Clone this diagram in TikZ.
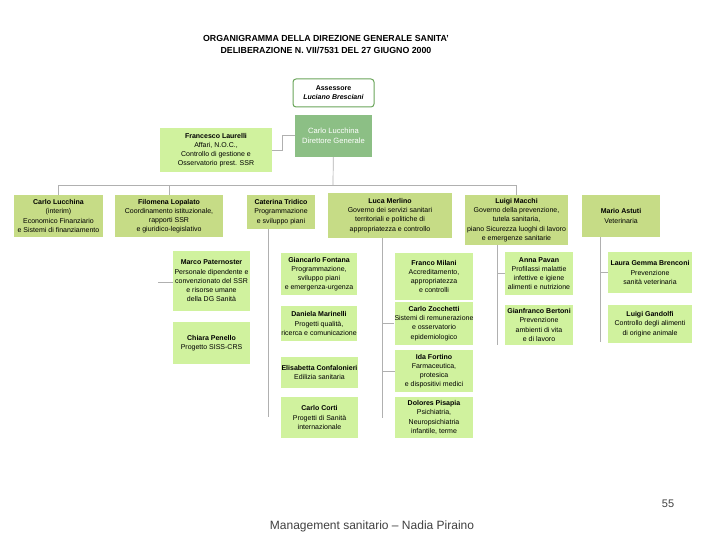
\documentclass[tikz,border=0pt]{standalone}
\usepackage{fontspec}
\setmainfont{Liberation Sans}
\usepackage{xcolor}
\usepackage{tikz}
\usetikzlibrary{positioning, calc}

\definecolor{headgreen}{HTML}{C6DC86}
\definecolor{subgreen}{HTML}{D0F29E}
\definecolor{dirgreen}{HTML}{8CBF85}
\definecolor{assgreen}{HTML}{6AA55A}
\definecolor{linegray}{HTML}{B0B0B0}

\begin{document}
\begin{tikzpicture}[
    x=1pt, y=-1pt,
    box/.style={rectangle, inner sep=0pt, align=center,
      font=\fontsize{7}{9.2}\selectfont},
    headbox/.style={box, fill=headgreen},
    subbox/.style={box, fill=subgreen},
    dirbox/.style={box, fill=dirgreen, text=white, font=\fontsize{7.6}{10}\selectfont},
    conn/.style={draw=linegray, line width=0.7pt}
]
\useasboundingbox (0,0) rectangle (720,540);

% titolo
\node[align=center, font=\fontsize{8.8}{12}\selectfont\bfseries] (title) at (326,45)
  {ORGANIGRAMMA DELLA DIREZIONE GENERALE SANITA'\\DELIBERAZIONE N. VII/7531 DEL 27 GIUGNO 2000};

% vertice
\node[box, draw=assgreen, line width=1pt, rounded corners=3pt, fill=white,
  minimum width=81pt, minimum height=28pt] (assessore) at (333.5,93)
  {\textbf{Assessore}\\\textbf{\itshape Luciano Bresciani}};
\node[dirbox, minimum width=77pt, minimum height=42pt] (dg) at (333.5,136)
  {Carlo Lucchina\\Direttore Generale};
\node[subbox, minimum width=112pt, minimum height=44pt] (laurelli) at (216,150)
  {\textbf{Francesco Laurelli}\\Affari, N.O.C.,\\Controllo di gestione e\\Osservatorio prest. SSR};

% unita' organizzative
\node[headbox, minimum width=89pt, minimum height=42pt] (lucchina) at (58.5,216)
  {\textbf{Carlo Lucchina}\\(interim)\\Economico Finanziario\\e Sistemi di finanziamento};
\node[headbox, minimum width=108pt, minimum height=42pt] (lopalato) at (169,216)
  {\textbf{Filomena Lopalato}\\Coordinamento istituzionale,\\rapporti SSR\\e giuridico-legislativo};
\node[headbox, minimum width=68pt, minimum height=34pt] (tridico) at (281,212)
  {\textbf{Caterina Tridico}\\Programmazione\\e sviluppo piani};
\node[headbox, minimum width=124pt, minimum height=45pt] (merlino) at (390,215.5)
  {\textbf{Luca Merlino}\\Governo dei servizi sanitari\\territoriali e politiche di\\appropriatezza e controllo};
\node[headbox, minimum width=103pt, minimum height=50pt] (macchi) at (516.5,220)
  {\textbf{Luigi Macchi}\\Governo della prevenzione,\\tutela sanitaria,\\piano Sicurezza luoghi di lavoro\\e emergenze sanitarie};
\node[headbox, minimum width=78pt, minimum height=42pt] (astuti) at (621,216)
  {\textbf{Mario Astuti}\\Veterinaria};

% strutture
\node[subbox, minimum width=77pt, minimum height=60pt] (paternoster) at (211.5,281)
  {\textbf{Marco Paternoster}\\Personale dipendente e\\convenzionato del SSR\\e risorse umane\\della DG Sanit\`a};
\node[subbox, minimum width=77pt, minimum height=42pt] (penello) at (211.5,343)
  {\textbf{Chiara Penello}\\Progetto SISS-CRS};
\node[subbox, minimum width=76pt, minimum height=42pt] (fontana) at (319,274)
  {\textbf{Giancarlo Fontana}\\Programmazione,\\sviluppo piani\\e emergenza-urgenza};
\node[subbox, minimum width=76pt, minimum height=35pt] (marinelli) at (319,323.5)
  {\textbf{Daniela Marinelli}\\Progetti qualit\`a,\\ricerca e comunicazione};
\node[subbox, minimum width=77pt, minimum height=31pt] (confalonieri) at (319.5,372.5)
  {\textbf{Elisabetta Confalonieri}\\Edilizia sanitaria};
\node[subbox, minimum width=77pt, minimum height=41pt] (corti) at (319.5,417.5)
  {\textbf{Carlo Corti}\\Progetti di Sanit\`a\\internazionale};
\node[subbox, minimum width=78pt, minimum height=47pt] (milani) at (434,276.5)
  {\textbf{Franco Milani}\\Accreditamento,\\appropriatezza\\e controlli};
\node[subbox, minimum width=78pt, minimum height=43pt] (zocchetti) at (434,323.5)
  {\textbf{Carlo Zocchetti}\\Sistemi di remunerazione\\e osservatorio\\epidemiologico};
\node[subbox, minimum width=78pt, minimum height=42pt] (fortino) at (434,371)
  {\textbf{Ida Fortino}\\Farmaceutica,\\protesica\\e dispositivi medici};
\node[subbox, minimum width=78pt, minimum height=41pt] (pisapia) at (434,417.5)
  {\textbf{Dolores Pisapia}\\Psichiatria,\\Neuropsichiatria\\infantile, terme};
\node[subbox, minimum width=68pt, minimum height=43pt] (pavan) at (539,273.5)
  {\textbf{Anna Pavan}\\Profilassi malattie\\infettive e igiene\\alimenti e nutrizione};
\node[subbox, minimum width=68pt, minimum height=40pt] (bertoni) at (539,325)
  {\textbf{Gianfranco Bertoni}\\Prevenzione\\ambienti di vita\\e di lavoro};
\node[subbox, minimum width=84pt, minimum height=41pt] (brenconi) at (650,272.5)
  {\textbf{Laura Gemma Brenconi}\\Prevenzione\\sanit\`a veterinaria};
\node[subbox, minimum width=84pt, minimum height=38pt] (gandolfi) at (650,324)
  {\textbf{Luigi Gandolfi}\\Controllo degli alimenti\\di origine animale};

% collegamenti
\coordinate (bus) at (333,185);
\coordinate (stub) at (158,282);
\coordinate (colT) at (268,417);
\coordinate (colM) at (382,418);
\coordinate (colV) at (497,345);
\coordinate (colA) at (600,342);
\draw[conn] (dg) -- (bus);
\draw[conn] (lucchina.north) -- (lucchina.north |- bus) -- (macchi.north |- bus) -- (macchi.north);
\draw[conn] (lopalato.north) -- (lopalato.north |- bus);
\draw[conn] (dg.west |- 0,135) -- (282,135) -- (282,150) -- (laurelli.east);
\draw[conn] (stub) -- (stub -| paternoster.west);
\draw[conn] (colT |- tridico.south) -- (colT);
\draw[conn] (colM |- merlino.south) -- (colM);
\draw[conn] (colM |- zocchetti.west) -- (zocchetti.west);
\draw[conn] (colM |- fortino.west) -- (fortino.west);
\draw[conn] (colV |- macchi.south) -- (colV);
\draw[conn] (colV |- pavan.west) -- (pavan.west);
\draw[conn] (colA |- astuti.south) -- (colA);
\draw[conn] (colA |- brenconi.west) -- (brenconi.west);

% pie' di pagina
\node[font=\fontsize{11}{13}\selectfont, text=black!75] (pagenum) at (668,504) {55};
\node[font=\fontsize{12}{14}\selectfont, text=black!75] (footer) at (372,526)
  {Management sanitario -- Nadia Piraino};
\end{tikzpicture}
\end{document}
